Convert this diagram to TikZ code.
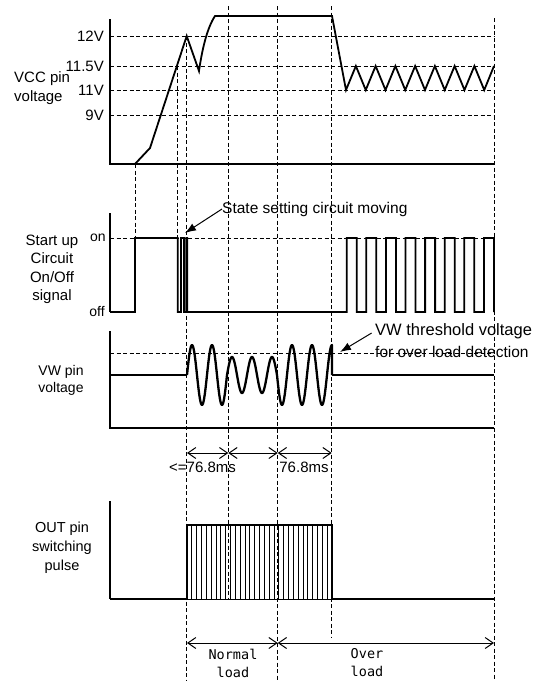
\documentclass[tikz,border=0pt]{standalone}
\usepackage{fontspec}
\setmainfont{Liberation Sans}
\newfontfamily\jmono{DejaVu Sans Mono}
\usetikzlibrary{arrows.meta}
\begin{document}
\begin{tikzpicture}[x=1pt,y=-1pt,
  axis/.style={line width=1.1pt},
  guide/.style={line width=0.9pt, dash pattern=on 4pt off 2.5pt},
  wave/.style={line width=1.8pt, line join=miter},
  osc/.style={line width=2.3pt, line join=round},
  hatch/.style={line width=0.8pt},
  dim/.style={line width=1pt, {Straight Barb[length=8pt,width=11pt]}-{Straight Barb[length=8pt,width=11pt]}},
  callout/.style={line width=1pt, -{Latex[length=11pt,width=8pt]}},
  lbl/.style={inner sep=0pt, font=\fontsize{15}{18.5}\selectfont, align=center},
  lbls/.style={inner sep=0pt, font=\fontsize{14}{17}\selectfont, align=center},
  mono/.style={inner sep=0pt, font=\jmono\fontsize{13.5}{18}\selectfont, align=center}
]
\useasboundingbox (0,0) rectangle (536,681);

% ---------- guide lines ----------
\foreach \y in {36,66,90,115,238,353} \draw[guide] (110,\y) -- (494,\y);
\draw[guide] (135,164) -- (135,238);
\draw[guide] (177.7,66) -- (177.7,238);
\draw[guide] (186.7,36) -- (186.7,681);
\draw[guide] (228.3,6) -- (228.3,599);
\draw[guide] (277.7,6) -- (277.7,681);
\draw[guide] (331.7,6) -- (331.7,638);
\draw[guide] (494,18) -- (494,681);

% ---------- axes ----------
\draw[axis] (110,19) -- (110,164) -- (494,164);
\draw[axis] (110,213) -- (110,312);
\draw[axis] (110,331) -- (110,428) -- (494,428);
\draw[axis] (110,501) -- (110,599);

% ---------- VCC waveform ----------
\draw[wave] (110,164) -- (135,164) -- (150,148) -- (186.7,36) -- (199,71)
  .. controls (202,50) and (207,28) .. (215,16) -- (332,16) -- (346,90)
  \foreach \k in {0,...,6} { -- ({346+19.75*\k+9.875},66) -- ({346+19.75*(\k+1)},90) }
  -- (494,66);

% ---------- start-up on/off signal ----------
\draw[wave] (110,312) -- (135,312) -- (135,238) -- (177.7,238) -- (177.7,312)
  -- (181,312) -- (181,238) -- (184,238) -- (184,312) -- (186.2,312) -- (186.2,238)
  -- (187.2,238) -- (187.2,312) -- (346.7,312)
  \foreach \k in {0,...,6} { -- ({346.7+19.6*\k},238) -- ({356.7+19.6*\k},238)
     -- ({356.7+19.6*\k},312) -- ({346.7+19.6*(\k+1)},312) }
  -- (483.9,238) -- (493.9,238) -- (493.9,312);

% ---------- VW pin voltage ----------
\draw[wave] (110,375) -- (187,375);
\draw[osc] (187,375)
  -- plot[domain=187:227,samples=81] (\x,{375-30*sin(18*(\x-187))})
  -- plot[domain=227:277,samples=101] (\x,{375-18*sin(18*(\x-187))})
  -- plot[domain=277:332,samples=111] (\x,{375-30*sin(18*(\x-187))})
  -- (332,375);
\draw[wave] (332,375) -- (494,375);

% ---------- OUT pin switching pulse ----------
\draw[wave] (110,599) -- (187,599) -- (187,525) -- (332,525) -- (332,599) -- (494,599);
\draw[hatch] (187,599) -- (332,599);
\foreach \i in {1,...,29} \draw[hatch] ({187+\i*145/30},525) -- ({187+\i*145/30},599);

% ---------- dimension arrows ----------
\coordinate (d1) at (187,453);
\coordinate (d2) at (228.3,453);
\coordinate (d3) at (277.7,453);
\coordinate (d4) at (331.7,453);
\draw[dim] (d1) -- (d2);
\draw[dim] (d2) -- (d3);
\draw[dim] (d3) -- (d4);
\coordinate (e1) at (187,643);
\coordinate (e2) at (277.7,643);
\coordinate (e3) at (494,643);
\draw[dim] (e1) -- (e2);
\draw[dim] (e2) -- (e3);

% ---------- labels ----------
\node[lbl, anchor=east] (v12)  at (104,36)  {12V};
\node[lbl, anchor=east] (v115) at (104,66)  {11.5V};
\node[lbl, anchor=east] (v11)  at (104,90)  {11V};
\node[lbl, anchor=east] (v9)   at (104,115) {9V};
\node[lbl, anchor=west, align=left] (vcc) at (14,88) {VCC pin\\voltage};

\node[lbls] (on)  at (98,238) {on};
\node[lbls] (off) at (97,311) {off};
\node[lbl] (start) at (52,269.5) {Start up\\Circuit\\On/Off\\signal};

\node[lbls] (vw) at (61,380) {VW pin\\voltage};
\node[lbls, font=\fontsize{14.5}{19}\selectfont] (out) at (62,548) {OUT pin\\switching\\pulse};

\node[lbl, font=\fontsize{15.5}{18}\selectfont, anchor=west] (state) at (222,209) {State setting circuit moving};
\coordinate (statetip) at (185,233);
\draw[callout] (state.west) -- (statetip);

\node[lbl, font=\fontsize{16.5}{19}\selectfont, anchor=west] (vwt) at (375,331) {VW threshold voltage};
\node[lbl, font=\fontsize{15.5}{19}\selectfont, anchor=west] (vwt2) at (375,352) {for over load detection};
\coordinate (vwtip) at (340,352);
\draw[callout, shorten <=4pt] (vwt.west) -- (vwtip);

\node[lbl] (t1) at (202.5,467) {<=76.8ms};
\node[lbl] (t2) at (304,467) {76.8ms};

\node[mono] (normal) at (233,663) {Normal\\load};
\node[mono] (over) at (367,663) {Over\\load};
\end{tikzpicture}
\end{document}
